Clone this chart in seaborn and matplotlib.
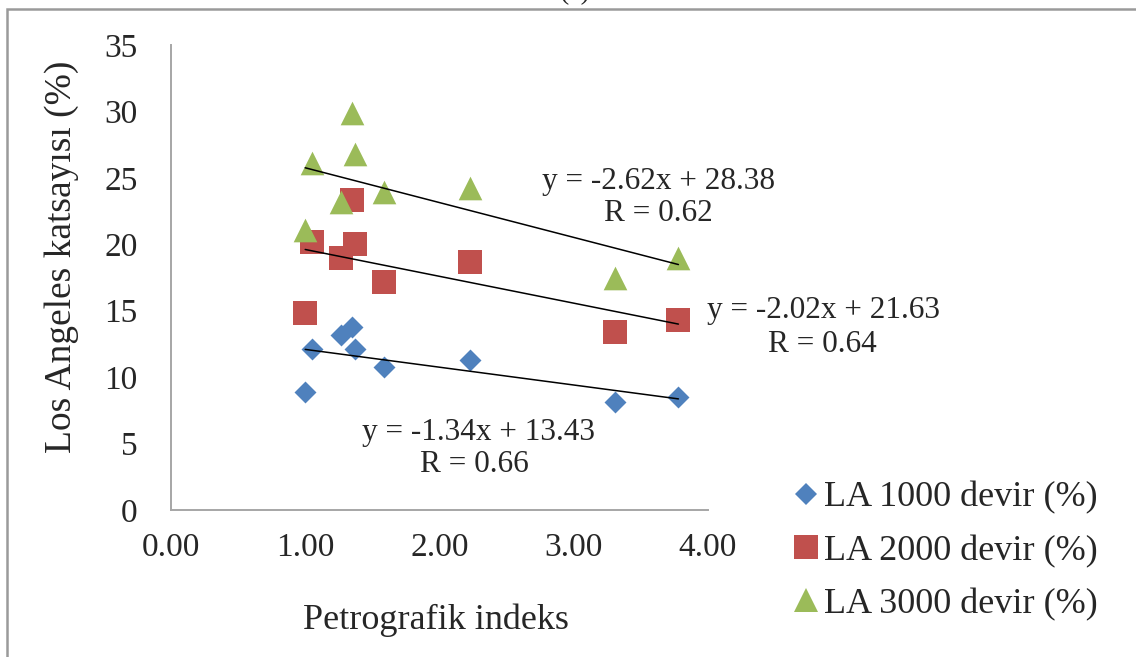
import numpy as np
import pandas as pd
import matplotlib as mpl
import matplotlib.pyplot as plt
import seaborn as sns
from matplotlib.lines import Line2D
from matplotlib.patches import Rectangle

# --- datos ---
petro_idx = [1.00, 1.05, 1.27, 1.35, 1.37, 1.59, 2.23, 3.31, 3.78]
la_1000 = [8.9, 12.1, 13.2, 13.8, 12.1, 10.8, 11.3, 8.1, 8.5]
la_2000 = [14.8, 20.2, 19.0, 23.3, 20.0, 17.2, 18.7, 13.4, 14.3]
la_3000 = [21.1, 26.1, 23.2, 29.9, 26.8, 23.9, 24.2, 17.5, 19.0]

series_names = ['LA 1000 devir (%)', 'LA 2000 devir (%)', 'LA 3000 devir (%)']
slopes = [-1.34, -2.02, -2.62]
intercepts = [13.43, 21.63, 28.38]
r_values = [0.66, 0.64, 0.62]

x_ticks = [0, 1, 2, 3, 4]
y_ticks = [0, 5, 10, 15, 20, 25, 30, 35]

# --- estilo ---
sns.set_style('white')
plt.rcParams['font.family'] = ['Liberation Serif', 'DejaVu Serif']

colors = ['#4F81BD', '#C0504D', '#9BBB59']
markers = ['D', 's', '^']
sizes = [125, 300, 290]
# posiciones de las ecuaciones (coordenadas de datos)
eq_pos = [(2.29, 5.87), (4.86, 15.05), (3.63, 24.76)]
r_pos = [(2.26, 3.39), (4.85, 12.49), (3.63, 22.35)]

df = pd.DataFrame({
    'x': petro_idx * 3,
    'y': la_1000 + la_2000 + la_3000,
    'serie': np.repeat(series_names, len(petro_idx)),
})

fig = plt.figure(figsize=(11.36, 6.57), dpi=100)
ax = fig.add_axes([0.1505, 0.2237, 0.4727, 0.7078])

for i, name in enumerate(series_names):
    sub = df[df['serie'] == name]
    sns.scatterplot(data=sub, x='x', y='y', ax=ax, color=colors[i],
                    marker=markers[i], s=sizes[i], linewidth=0, legend=False,
                    zorder=2)
    # línea de tendencia
    xs = np.array([sub['x'].min(), sub['x'].max()])
    ax.plot(xs, slopes[i] * xs + intercepts[i], color='black', lw=1.1, zorder=3)
    ax.text(*eq_pos[i], f'y = {slopes[i]:.2f}x + {intercepts[i]:.2f}',
            ha='center', va='center', fontsize=22.5)
    ax.text(*r_pos[i], f'R = {r_values[i]:.2f}', ha='center', va='center',
            fontsize=22.5)

ax.set_xlim(0, 4)
ax.set_ylim(0, 35)
ax.set_xticks(x_ticks)
ax.set_xticklabels([f'{t:.2f}' for t in x_ticks])
ax.set_yticks(y_ticks)
ax.tick_params(axis='both', length=0, labelsize=24)
ax.tick_params(axis='y', pad=24)
ax.tick_params(axis='x', pad=16)

for side in ['top', 'right']:
    ax.spines[side].set_visible(False)
for side in ['left', 'bottom']:
    ax.spines[side].set_color('#A6A6A6')
    ax.spines[side].set_linewidth(1.4)

ax.set_xlabel('Petrografik indeks', fontsize=26, va='center')
ax.set_ylabel('Los Angeles katsayısı (%)', fontsize=27, va='center')
ax.xaxis.set_label_coords(0.4935, -0.237)
ax.yaxis.set_label_coords(-0.203, 0.544)

handles = [Line2D([], [], ls='none', marker=markers[i], color=colors[i],
                  markersize=[11, 17, 17][i], markeredgewidth=0)
           for i in range(3)]
fig.legend(handles, series_names, loc='center left',
           bbox_to_anchor=(0.698, 0.161), frameon=False, fontsize=26,
           handlelength=0.7, handletextpad=0.15, labelspacing=0.55,
           borderpad=0, borderaxespad=0)

# marco gris recortado y "(a)" cortado arriba
fig.patches.append(Rectangle((7 / 1136, -0.05), 1.2, 1 - 9 / 657 + 0.05,
                             transform=fig.transFigure, fill=False,
                             edgecolor='#9A9A9A', lw=1.8))
fig.text(575 / 1136, 1 - 5 / 657, '(a)', ha='center', va='bottom', fontsize=20)

fig.savefig('out.png', dpi=100, facecolor='white')
